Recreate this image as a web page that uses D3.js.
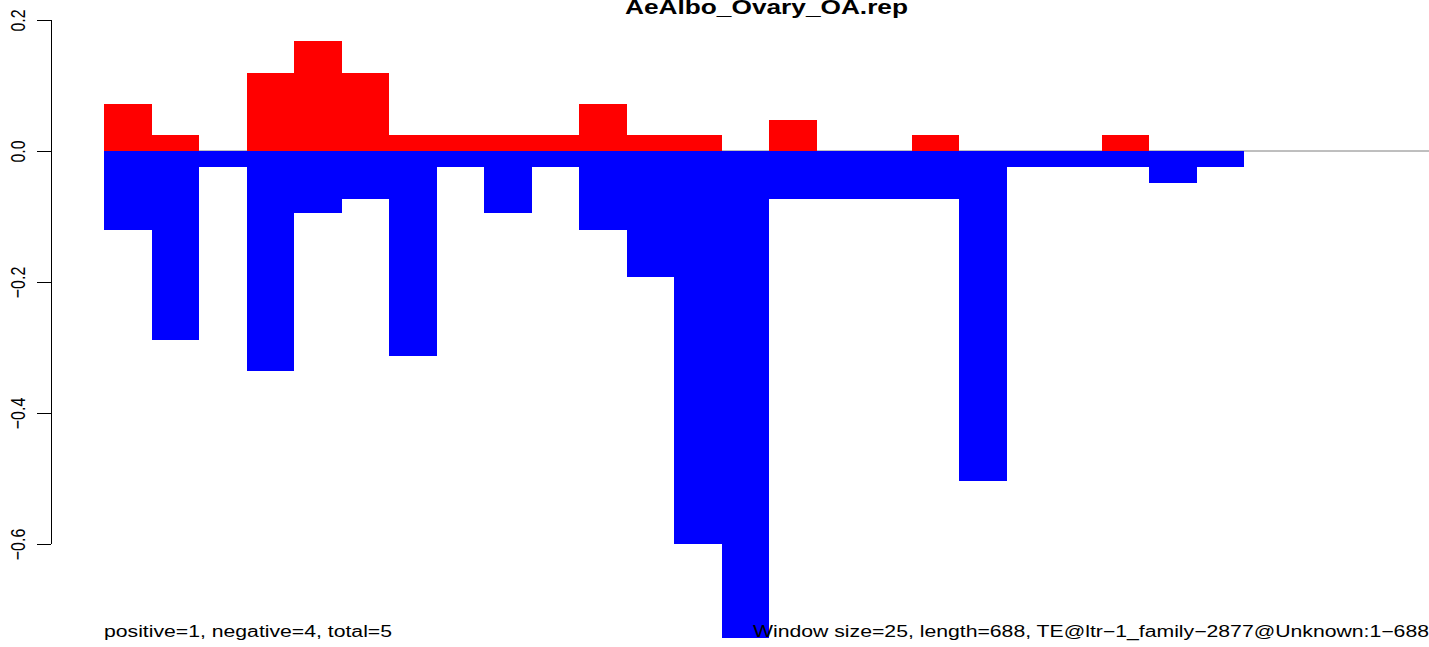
<!DOCTYPE html>
<html>
<head>
<meta charset="utf-8">
<script src="https://cdn.jsdelivr.net/npm/d3@7"></script>
<style>
  html, body { margin: 0; padding: 0; background: #fff; }
  svg { display: block; font-family: "Liberation Sans", Arial, Helvetica, sans-serif; }
</style>
</head>
<body>
<svg id="chart" width="1429" height="647"></svg>
<script>
// ---- data ----
const title = "AeAlbo_Ovary_OA.rep";
const windowSize = 25;
const seqLength = 688;
const positiveValues = [0.072, 0.024, 0, 0.119, 0.168, 0.119, 0.024, 0.024, 0.024, 0.024,
                        0.072, 0.024, 0.024, 0, 0.047, 0, 0, 0.024, 0, 0,
                        0, 0.024, 0, 0];
const negativeValues = [-0.121, -0.289, -0.024, -0.336, -0.095, -0.073, -0.313, -0.024, -0.095, -0.024,
                        -0.121, -0.193, -0.600, -0.744, -0.073, -0.073, -0.073, -0.073, -0.504, -0.024,
                        -0.024, -0.024, -0.049, -0.024];
const yTicks = [0.2, 0.0, -0.2, -0.4, -0.6];
const leftNote = "positive=1, negative=4, total=5";
const rightNote = "Window size=25, length=688, TE@ltr\u22121_family\u22122877@Unknown:1\u2212688";

// ---- layout ----
const hStretch = 1.32; // reference text is horizontally widened
const svg = d3.select("#chart");
const x = d3.scaleLinear().domain([0, seqLength]).range([104, 104 + seqLength * 1.9]);
const y = d3.scaleLinear().domain([-0.6, 0.2]).range([544, 20]);

// zero line
svg.append("line")
  .attr("x1", x(0)).attr("x2", 1429)
  .attr("y1", y(0)).attr("y2", y(0))
  .attr("stroke", "#7f7f7f").attr("stroke-width", 1);

const posData = positiveValues.map((v, i) => ({i, v})).filter(d => d.v !== 0);
const negData = negativeValues.map((v, i) => ({i, v})).filter(d => d.v !== 0);

svg.append("g").attr("shape-rendering", "crispEdges")
  .selectAll("rect").data(posData).join("rect")
  .attr("x", d => x(d.i * windowSize))
  .attr("width", d => x((d.i + 1) * windowSize) - x(d.i * windowSize))
  .attr("y", d => y(d.v))
  .attr("height", d => y(0) - y(d.v))
  .attr("fill", "#ff0000");

svg.append("g").attr("shape-rendering", "crispEdges")
  .selectAll("rect").data(negData).join("rect")
  .attr("x", d => x(d.i * windowSize))
  .attr("width", d => x((d.i + 1) * windowSize) - x(d.i * windowSize))
  .attr("y", y(0))
  .attr("height", d => y(d.v) - y(0))
  .attr("fill", "#0000ff");

// y axis
const axis = d3.axisLeft(y).tickValues(yTicks).tickSize(14).tickFormat(d3.format(".1f"));
const gAxis = svg.append("g").attr("transform", "translate(51,0)").call(axis);
gAxis.select(".domain").attr("d", `M0.5,${y(0.2)}V${y(-0.6)}`).attr("stroke", "#000");
gAxis.selectAll(".tick line").attr("stroke", "#000");
gAxis.selectAll(".tick text")
  .attr("x", null).attr("dy", null)
  .attr("transform", `translate(-26,0) scale(${hStretch},1) rotate(-90)`)
  .attr("text-anchor", "middle")
  .attr("font-size", 16)
  .attr("font-family", "Liberation Sans, Arial, sans-serif")
  .attr("fill", "#000")
  .text(d => d === 0 ? "0.0" : d3.format(".1f")(d).replace("-", "\u2212"));

// title
svg.append("text")
  .attr("x", 625).attr("y", 14)
  .attr("font-weight", "bold")
  .attr("font-size", 20)
  .attr("textLength", 283)
  .attr("lengthAdjust", "spacingAndGlyphs")
  .text(title);

// notes
svg.append("text").attr("x", 104).attr("y", 637).attr("font-size", 16)
  .attr("textLength", 288).attr("lengthAdjust", "spacingAndGlyphs").text(leftNote);
svg.append("text").attr("x", 753).attr("y", 637).attr("font-size", 16)
  .attr("textLength", 676).attr("lengthAdjust", "spacingAndGlyphs").text(rightNote);
</script>
</body>
</html>
